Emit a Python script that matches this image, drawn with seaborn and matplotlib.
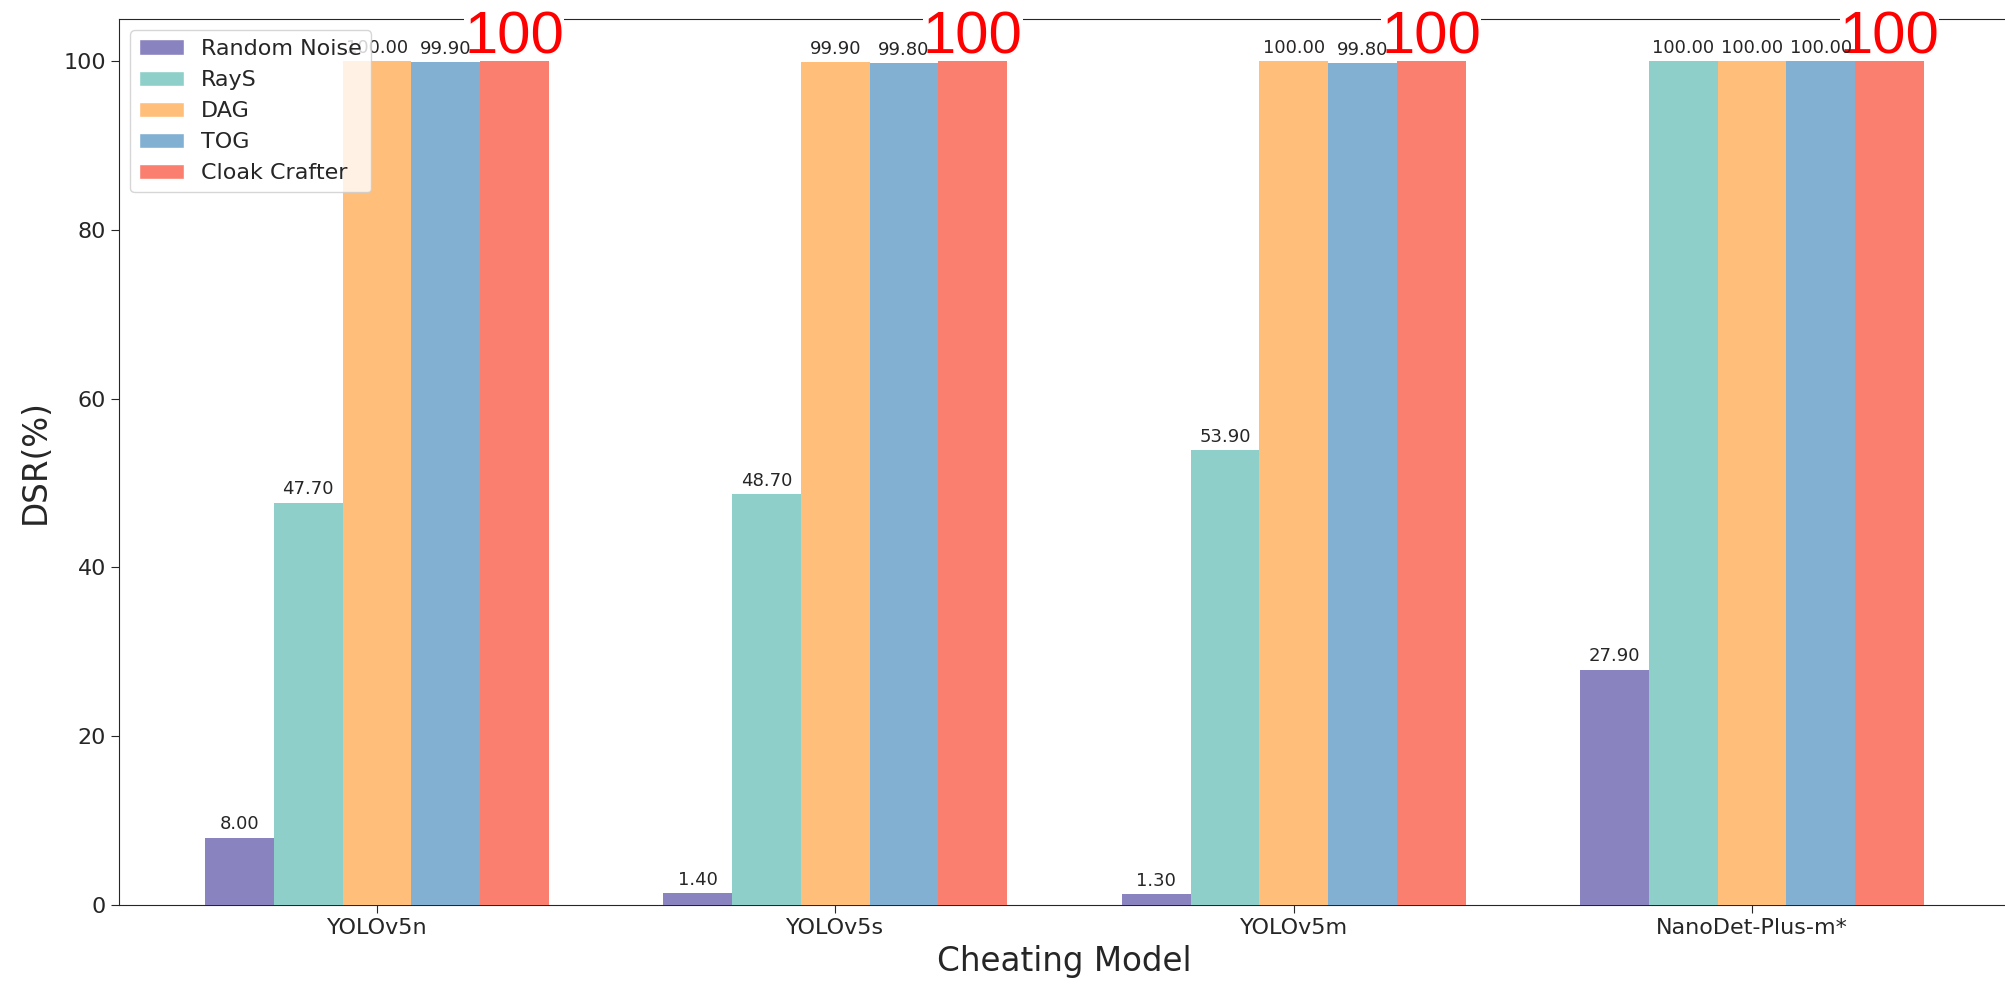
import numpy as np
import pandas as pd
import matplotlib
matplotlib.use("Agg")
import matplotlib.pyplot as plt
import seaborn as sns

models = ["YOLOv5n", "YOLOv5s", "YOLOv5m", "NanoDet-Plus-m*"]
methods = ["Random Noise", "RayS", "DAG", "TOG", "Cloak Crafter"]
random_noise = [8.00, 1.40, 1.30, 27.90]
rays = [47.70, 48.70, 53.90, 100.00]
dag = [100.00, 99.90, 100.00, 100.00]
tog = [99.90, 99.80, 99.80, 100.00]
cloak_crafter = [100.00, 100.00, 100.00, 100.00]
colors = ["#8983BF", "#8ECFC9", "#FFBE7A", "#82B0D2", "#FA7F6F"]

vals = [random_noise, rays, dag, tog, cloak_crafter]
df = pd.DataFrame({
    "model": models * len(methods),
    "method": [m for m in methods for _ in models],
    "dsr": [v for s in vals for v in s],
})

sns.set_style("ticks")
plt.rcParams['font.family'] = ['DejaVu Sans']

fig = plt.figure(figsize=(20.05, 9.85), dpi=100)
ax = fig.add_axes([0.0594, 0.0812, 0.943, 0.8995])

sns.barplot(data=df, x="model", y="dsr", hue="method", hue_order=methods,
            order=models, palette=colors, width=0.75, saturation=1,
            errorbar=None, ax=ax)

for i, cont in enumerate(ax.containers):
    for p in cont:
        p.set_zorder(4)
        p.set_edgecolor("none")
    if i < 4:
        ax.bar_label(cont, fmt="%.2f", fontsize=13, padding=3, color=".15", zorder=5)
    else:
        # big red labels drawn over the top spine
        for p in cont:
            ax.annotate("100", xy=(p.get_x() + p.get_width() / 2, p.get_height()),
                        xytext=(0, 5.5), textcoords="offset points",
                        ha="center", va="baseline", color="red", fontsize=43,
                        family="Liberation Sans", zorder=3,
                        bbox=dict(boxstyle="square,pad=0", fc="white", ec="none"))

ax.set_xlim(-0.5625, 3.5625)
ax.set_ylim(0, 105)
ax.set_yticks([0, 20, 40, 60, 80, 100])
ax.tick_params(labelsize=16, length=6)
ax.set_xlabel("Cheating Model", fontsize=23.5, labelpad=5)
ax.set_ylabel("DSR(%)", fontsize=23.5, labelpad=8)
for s in ax.spines.values():
    s.set_zorder(2.5)

ax.legend(loc="upper left", fontsize=16, title=None)

fig.savefig("out.png", dpi=100)
